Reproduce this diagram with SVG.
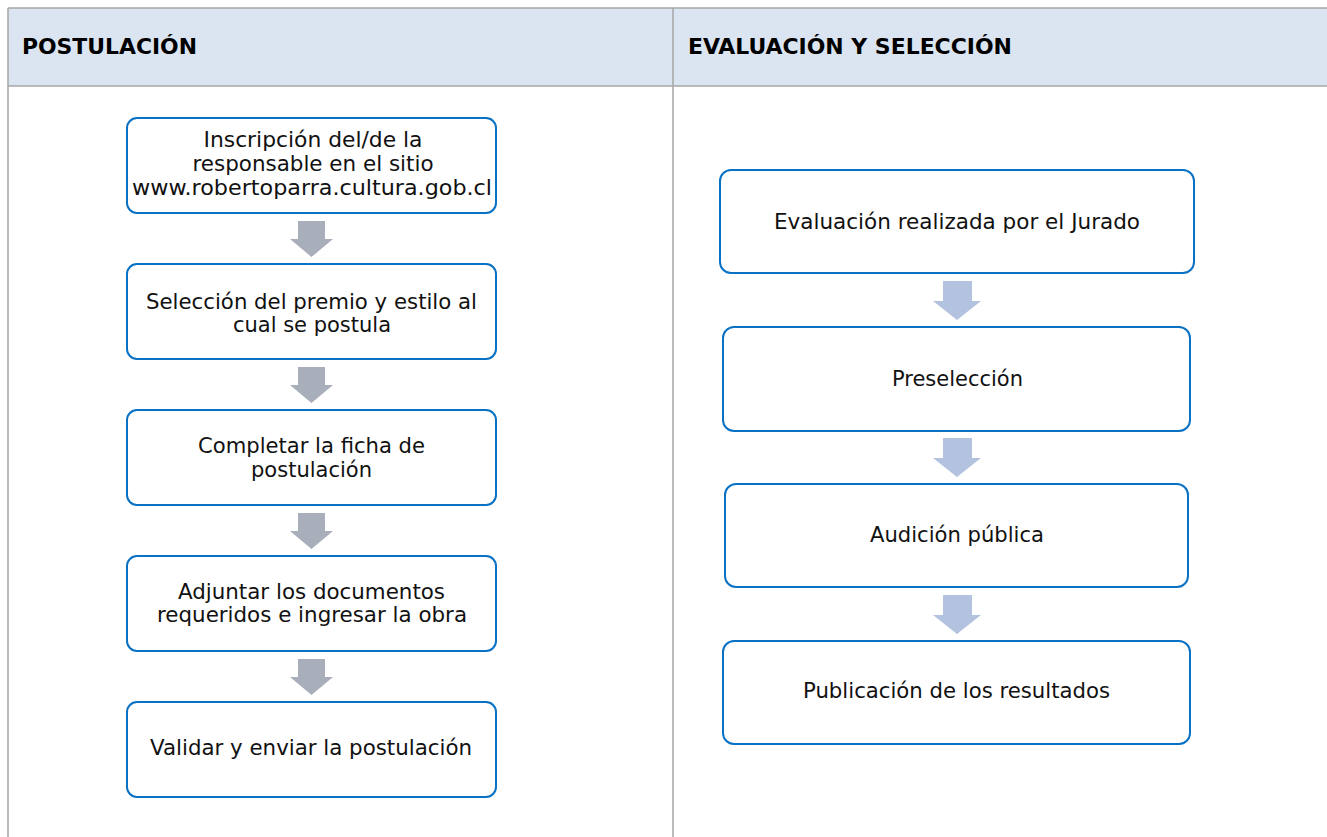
<svg xmlns="http://www.w3.org/2000/svg" width="1327" height="837" viewBox="0 0 1327 837">
<style>
.hdr{font-family:"DejaVu Sans Condensed","DejaVu Sans",sans-serif;font-weight:bold;font-size:22px;fill:#000}
.box{fill:#fff;stroke:#0A72C4;stroke-width:2}
.t{font-family:"DejaVu Sans","Liberation Sans",sans-serif;font-size:21px;fill:#111;text-anchor:middle}
.al{fill:#A9AEBB}
.ar{fill:#B3C3DF}
.grid{stroke:#A6A6A6;stroke-width:1.5;fill:none}
</style>
<rect x="8" y="8" width="1319" height="78" fill="#DBE5F1"/>
<g class="grid">
<line x1="8" y1="8" x2="1327" y2="8"/>
<line x1="8" y1="86" x2="1327" y2="86"/>
<line x1="8" y1="8" x2="8" y2="837"/>
<line x1="673" y1="8" x2="673" y2="837"/>
</g>
<text class="hdr" x="22" y="54" textLength="175" lengthAdjust="spacingAndGlyphs">POSTULACIÓN</text>
<text class="hdr" x="688" y="54" textLength="324" lengthAdjust="spacingAndGlyphs">EVALUACIÓN Y SELECCIÓN</text>
<g id="connectors">
<polygon class="al" points="298,221 325,221 325,239 333,239 311.5,257 290,239 298,239"/>
<polygon class="al" points="298,367 325,367 325,385 333,385 311.5,403 290,385 298,385"/>
<polygon class="al" points="298,513 325,513 325,531 333,531 311.5,549 290,531 298,531"/>
<polygon class="al" points="298,659 325,659 325,677 333,677 311.5,695 290,677 298,677"/>
<polygon class="ar" points="943,281 972,281 972,301 981,301 957,320 933,301 943,301"/>
<polygon class="ar" points="943,438 972,438 972,458 981,458 957,477 933,458 943,458"/>
<polygon class="ar" points="943,595 972,595 972,615 981,615 957,634 933,615 943,615"/>
</g>
<g id="n1"><rect class="box" x="127" y="118" width="369" height="95" rx="10"/>
<text class="t" x="313" y="147" textLength="219" lengthAdjust="spacingAndGlyphs">Inscripción del/de la</text>
<text class="t" x="313" y="171" textLength="241" lengthAdjust="spacingAndGlyphs">responsable en el sitio</text>
<text class="t" x="312" y="195" textLength="360" lengthAdjust="spacingAndGlyphs">www.robertoparra.cultura.gob.cl</text></g>
<g id="n2"><rect class="box" x="127" y="264" width="369" height="95" rx="10"/>
<text class="t" x="311.5" y="309" textLength="331" lengthAdjust="spacingAndGlyphs">Selección del premio y estilo al</text>
<text class="t" x="312" y="332">cual se postula</text></g>
<g id="n3"><rect class="box" x="127" y="410" width="369" height="95" rx="10"/>
<text class="t" x="311.5" y="453" textLength="227" lengthAdjust="spacingAndGlyphs">Completar la ficha de</text>
<text class="t" x="311.5" y="477" textLength="121" lengthAdjust="spacingAndGlyphs">postulación</text></g>
<g id="n4"><rect class="box" x="127" y="556" width="369" height="95" rx="10"/>
<text class="t" x="311.5" y="599" textLength="267" lengthAdjust="spacingAndGlyphs">Adjuntar los documentos</text>
<text class="t" x="312" y="622" textLength="310" lengthAdjust="spacingAndGlyphs">requeridos e ingresar la obra</text></g>
<g id="n5"><rect class="box" x="127" y="702" width="369" height="95" rx="10"/>
<text class="t" x="311" y="755" textLength="322" lengthAdjust="spacingAndGlyphs">Validar y enviar la postulación</text></g>
<g id="r1"><rect class="box" x="720" y="170" width="474" height="103" rx="11"/>
<text class="t" x="957" y="229" textLength="366" lengthAdjust="spacingAndGlyphs">Evaluación realizada por el Jurado</text></g>
<g id="r2"><rect class="box" x="723" y="327" width="467" height="104" rx="11"/>
<text class="t" x="957.5" y="386" textLength="131" lengthAdjust="spacingAndGlyphs">Preselección</text></g>
<g id="r3"><rect class="box" x="725" y="484" width="463" height="103" rx="11"/>
<text class="t" x="957" y="542" textLength="174" lengthAdjust="spacingAndGlyphs">Audición pública</text></g>
<g id="r4"><rect class="box" x="723" y="641" width="467" height="103" rx="11"/>
<text class="t" x="956.5" y="698" textLength="307" lengthAdjust="spacingAndGlyphs">Publicación de los resultados</text></g>
</svg>
